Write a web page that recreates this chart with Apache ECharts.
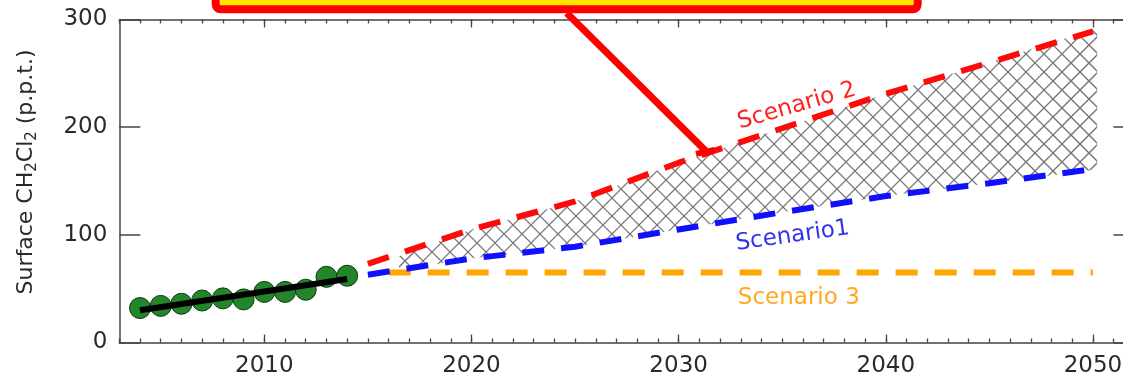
<!DOCTYPE html>
<html><head><meta charset="utf-8">
<script src="https://cdn.jsdelivr.net/npm/echarts@6/dist/echarts.min.js"></script>
<style>html,body{margin:0;padding:0;background:#fff}#c{width:1123px;height:377px}</style>
</head><body><div id="c"></div>
<script>
// ---- data ----
const obsYears = [2004, 2005, 2006, 2007, 2008, 2009, 2010, 2011, 2012, 2013, 2014];
const obsValues = [32, 34, 36, 39, 41, 40, 47, 47, 49, 61, 62];
const fitYears = [2004, 2014];
const fitValues = [30, 59];
const scenYears = [2015, 2020, 2025, 2030, 2035, 2040, 2045, 2050];
const scenario2 = [73, 105, 131, 167, 199, 231, 260, 289];
const scenario1 = [63, 78, 89, 105, 121, 136, 148, 161];
const scenario3Years = [2016, 2050];
const scenario3 = [65, 65];
const hatchYears = [2016.5, 2020, 2025, 2030, 2035, 2040, 2045, 2050.2];
const hatchLow = [67, 78, 89, 105, 121, 136, 148, 161];
const hatchHigh = [80, 105, 131, 167, 199, 231, 260, 292];
const xMajorTicks = [2010, 2020, 2030, 2040, 2050];
const yTickValues = [0, 100, 200, 300];
const scenarioLabels = ['Scenario 2', 'Scenario1', 'Scenario 3'];

const X_MIN = 2003, X_MAX = 2052;
const xMinorTicks = [];
for (let y = X_MIN; y <= X_MAX; y++) xMinorTicks.push(y);

const FONT = 'DejaVu Sans';
const AX = '#444';
const TXT = '#2a2a2a';
const zip = (a, b) => a.map((v, i) => [v, b[i]]);

const chart = echarts.init(document.getElementById('c'), null, {renderer: 'canvas'});

const baseX = {type: 'value', min: X_MIN, max: X_MAX, splitLine: {show: false}};

function renderHatch(params, api) {
  if (params.dataIndex !== 0) return;
  const top = hatchYears.map((x, i) => api.coord([x, hatchHigh[i]]));
  const bot = hatchYears.map((x, i) => api.coord([x, hatchLow[i]])).reverse();
  const poly = top.concat(bot);
  let minX = Infinity, maxX = -Infinity, minY = Infinity, maxY = -Infinity;
  poly.forEach(p => {
    minX = Math.min(minX, p[0]); maxX = Math.max(maxX, p[0]);
    minY = Math.min(minY, p[1]); maxY = Math.max(maxY, p[1]);
  });
  const step = 18;
  const children = [];
  const style = {stroke: '#757575', lineWidth: 1.3};
  for (let k = Math.floor((minX - maxY) / step) * step; k <= maxX - minY; k += step) {
    children.push({type: 'line', shape: {x1: k + minY, y1: minY, x2: k + maxY, y2: maxY}, style: style});
  }
  for (let m = Math.floor((minX + minY) / step) * step; m <= maxX + maxY; m += step) {
    children.push({type: 'line', shape: {x1: m - minY, y1: minY, x2: m - maxY, y2: maxY}, style: style});
  }
  return {type: 'group', clipPath: {type: 'polygon', shape: {points: poly}}, children: children};
}

const option = {
  animation: false,
  backgroundColor: '#fff',
  grid: {left: 119.3, top: 19.5, right: -11.4, bottom: 34.5, containLabel: false, outerBoundsMode: 'none'},
  xAxis: [
    Object.assign({}, baseX, {
      position: 'bottom',
      axisLine: {show: true, lineStyle: {color: AX, width: 1.5}},
      axisTick: {show: true, inside: true, length: 8, customValues: xMajorTicks, lineStyle: {color: AX, width: 1.3}},
      axisLabel: {show: true, customValues: xMajorTicks, formatter: v => String(v), fontSize: 23, fontFamily: FONT, color: TXT, margin: 12}
    }),
    Object.assign({}, baseX, {
      position: 'bottom',
      axisLine: {show: false},
      axisTick: {show: true, inside: true, length: 4, customValues: xMinorTicks, lineStyle: {color: AX, width: 1.3}},
      axisLabel: {show: false}
    }),
    Object.assign({}, baseX, {
      position: 'top',
      axisLine: {show: true, lineStyle: {color: AX, width: 1.5}},
      axisTick: {show: true, inside: true, length: 8, customValues: xMajorTicks, lineStyle: {color: AX, width: 1.3}},
      axisLabel: {show: false}
    }),
    Object.assign({}, baseX, {
      position: 'top',
      axisLine: {show: false},
      axisTick: {show: true, inside: true, length: 4, customValues: xMinorTicks, lineStyle: {color: AX, width: 1.3}},
      axisLabel: {show: false}
    })
  ],
  yAxis: [
    {
      type: 'value', min: 0, max: 300, interval: 100, position: 'left',
      splitLine: {show: false},
      axisLine: {show: true, lineStyle: {color: AX, width: 1.5}},
      axisTick: {show: true, inside: true, length: 21, customValues: yTickValues, lineStyle: {color: AX, width: 1.5}},
      axisLabel: {show: true, customValues: yTickValues, fontSize: 23, fontFamily: FONT, color: TXT, margin: 12},
      name: '{f|Surface CH}{s|2}{n|Cl}{s|2}{n| (p.p.t.)}',
      nameLocation: 'middle', nameGap: 80,
      nameTextStyle: {
        color: TXT, fontFamily: FONT,
        rich: {
          f: {fontSize: 22, fontFamily: FONT, color: TXT, lineHeight: 26, padding: [0, 0, 0, 18]},
          n: {fontSize: 22, fontFamily: FONT, color: TXT, lineHeight: 26},
          s: {fontSize: 15, fontFamily: FONT, color: TXT, lineHeight: 14, verticalAlign: 'bottom'}
        }
      }
    },
    {
      type: 'value', min: 0, max: 300, interval: 100, position: 'right',
      splitLine: {show: false},
      axisLine: {show: true, lineStyle: {color: AX, width: 1.5}},
      axisTick: {show: true, inside: true, length: 21, customValues: yTickValues, lineStyle: {color: AX, width: 1.5}},
      axisLabel: {show: false}
    }
  ],
  series: [
    {
      name: 'hatch', type: 'custom', z: 1, renderItem: renderHatch,
      data: hatchYears.map((x, i) => [x, hatchLow[i], hatchHigh[i]]),
      encode: {x: 0, y: [1, 2]}
    },
    {
      name: 'Scenario 3', type: 'line', z: 3, symbol: 'none',
      data: zip(scenario3Years, scenario3),
      lineStyle: {color: '#ffa500', width: 6, type: [22, 17], cap: 'butt'}
    },
    {
      name: 'Scenario1', type: 'line', z: 4, symbol: 'none',
      data: zip(scenYears, scenario1),
      lineStyle: {color: '#1010ff', width: 6, type: [22, 17], cap: 'butt'}
    },
    {
      name: 'Scenario 2', type: 'line', z: 4, symbol: 'none',
      data: zip(scenYears, scenario2),
      lineStyle: {color: '#ff0a0a', width: 6, type: [22, 17], cap: 'butt'}
    },
    {
      name: 'Observed', type: 'scatter', z: 5,
      data: zip(obsYears, obsValues), symbol: 'circle', symbolSize: 21,
      itemStyle: {color: '#23862a', borderColor: '#0c3b10', borderWidth: 1, opacity: 1}
    },
    {
      name: 'Trend', type: 'line', z: 6, symbol: 'none',
      data: zip(fitYears, fitValues),
      lineStyle: {color: '#000', width: 6, cap: 'butt'}
    }
  ]
};
chart.setOption(option);

// annotations anchored in data coordinates
const px = (x, y) => chart.convertToPixel({xAxisIndex: 0, yAxisIndex: 0}, [x, y]);
const s2 = px(2035.7, 219.7), s1 = px(2035.5, 98.9), s3 = px(2035.8, 41.3);
const aStart = px(2024.6, 306), aEnd = px(2031.3, 178);
const deg = Math.PI / 180;
chart.setOption({
  graphic: [
    {type: 'rect', z: 100, shape: {x: 215.7, y: -20, width: 702, height: 29.3, r: 5},
     style: {fill: '#ffe600', stroke: '#ff0000', lineWidth: 8}},
    {type: 'line', z: 100, shape: {x1: aStart[0], y1: aStart[1], x2: aEnd[0], y2: aEnd[1]},
     style: {stroke: '#ff0000', lineWidth: 7}},
    {type: 'rect', z: 100, x: aEnd[0], y: aEnd[1], rotation: 12 * deg,
     shape: {x: -10, y: -2, width: 19, height: 6}, style: {fill: '#ff0000'}},
    {type: 'text', z: 100, x: s2[0], y: s2[1], rotation: 16 * deg,
     style: {text: scenarioLabels[0], fill: '#ff2020', font: '23px "DejaVu Sans"', align: 'center', verticalAlign: 'middle'}},
    {type: 'text', z: 100, x: s1[0], y: s1[1], rotation: 8 * deg,
     style: {text: scenarioLabels[1], fill: '#3333ee', font: '23px "DejaVu Sans"', align: 'center', verticalAlign: 'middle'}},
    {type: 'text', z: 100, x: s3[0], y: s3[1],
     style: {text: scenarioLabels[2], fill: '#ffa820', font: '23px "DejaVu Sans"', align: 'center', verticalAlign: 'middle'}}
  ]
});
</script></body></html>
